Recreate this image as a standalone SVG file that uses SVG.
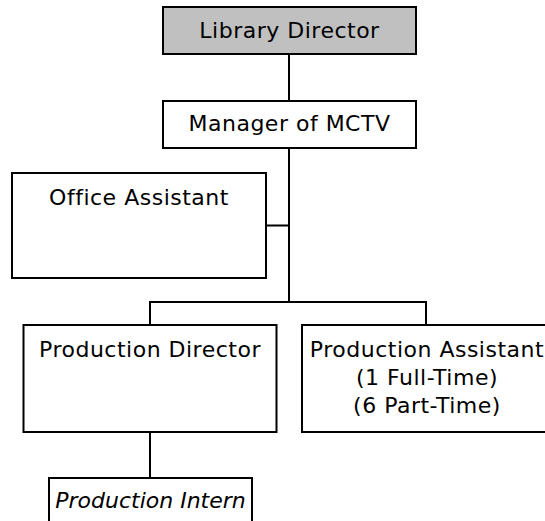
<svg xmlns="http://www.w3.org/2000/svg" width="545" height="521" viewBox="0 0 545 521">
<style>
.box{fill:#ffffff;stroke:#000000;stroke-width:2}
.top{fill:#c0c0c0}
.t{font-family:Verdana,"DejaVu Sans",sans-serif;font-size:22px;letter-spacing:0.5px;fill:#000000;text-anchor:middle}
.i{font-style:italic;letter-spacing:0}
.c{fill:none;stroke:#000000;stroke-width:2}
</style>
<rect width="545" height="521" fill="#ffffff"/>
<g id="connectors">
<line class="c" x1="289" y1="54" x2="289" y2="101"/>
<line class="c" x1="289" y1="148" x2="289" y2="302"/>
<line class="c" x1="266" y1="225.5" x2="289" y2="225.5"/>
<line class="c" x1="149" y1="302" x2="427" y2="302"/>
<line class="c" x1="150" y1="302" x2="150" y2="325"/>
<line class="c" x1="426" y1="302" x2="426" y2="325"/>
<line class="c" x1="150" y1="432" x2="150" y2="478"/>
</g>
<g id="library-director">
<rect class="box top" x="163" y="7" width="253" height="47"/>
<text class="t" x="289.5" y="38">Library Director</text>
</g>
<g id="manager-mctv">
<rect class="box" x="163" y="101" width="253" height="47"/>
<text class="t" x="289.5" y="131">Manager of MCTV</text>
</g>
<g id="office-assistant">
<rect class="box" x="12" y="173" width="254" height="105"/>
<text class="t" x="139" y="205">Office Assistant</text>
</g>
<g id="production-director">
<rect class="box" x="23.5" y="325" width="253" height="107"/>
<text class="t" x="150" y="357">Production Director</text>
</g>
<g id="production-assistant">
<rect class="box" x="302" y="325" width="250" height="107"/>
<text class="t" x="427" y="357">Production Assistant</text>
<text class="t" x="427" y="385">(1 Full-Time)</text>
<text class="t" x="427" y="413">(6 Part-Time)</text>
</g>
<g id="production-intern">
<rect class="box" x="49" y="478" width="203" height="60"/>
<text class="t i" x="150.5" y="508">Production Intern</text>
</g>
</svg>
